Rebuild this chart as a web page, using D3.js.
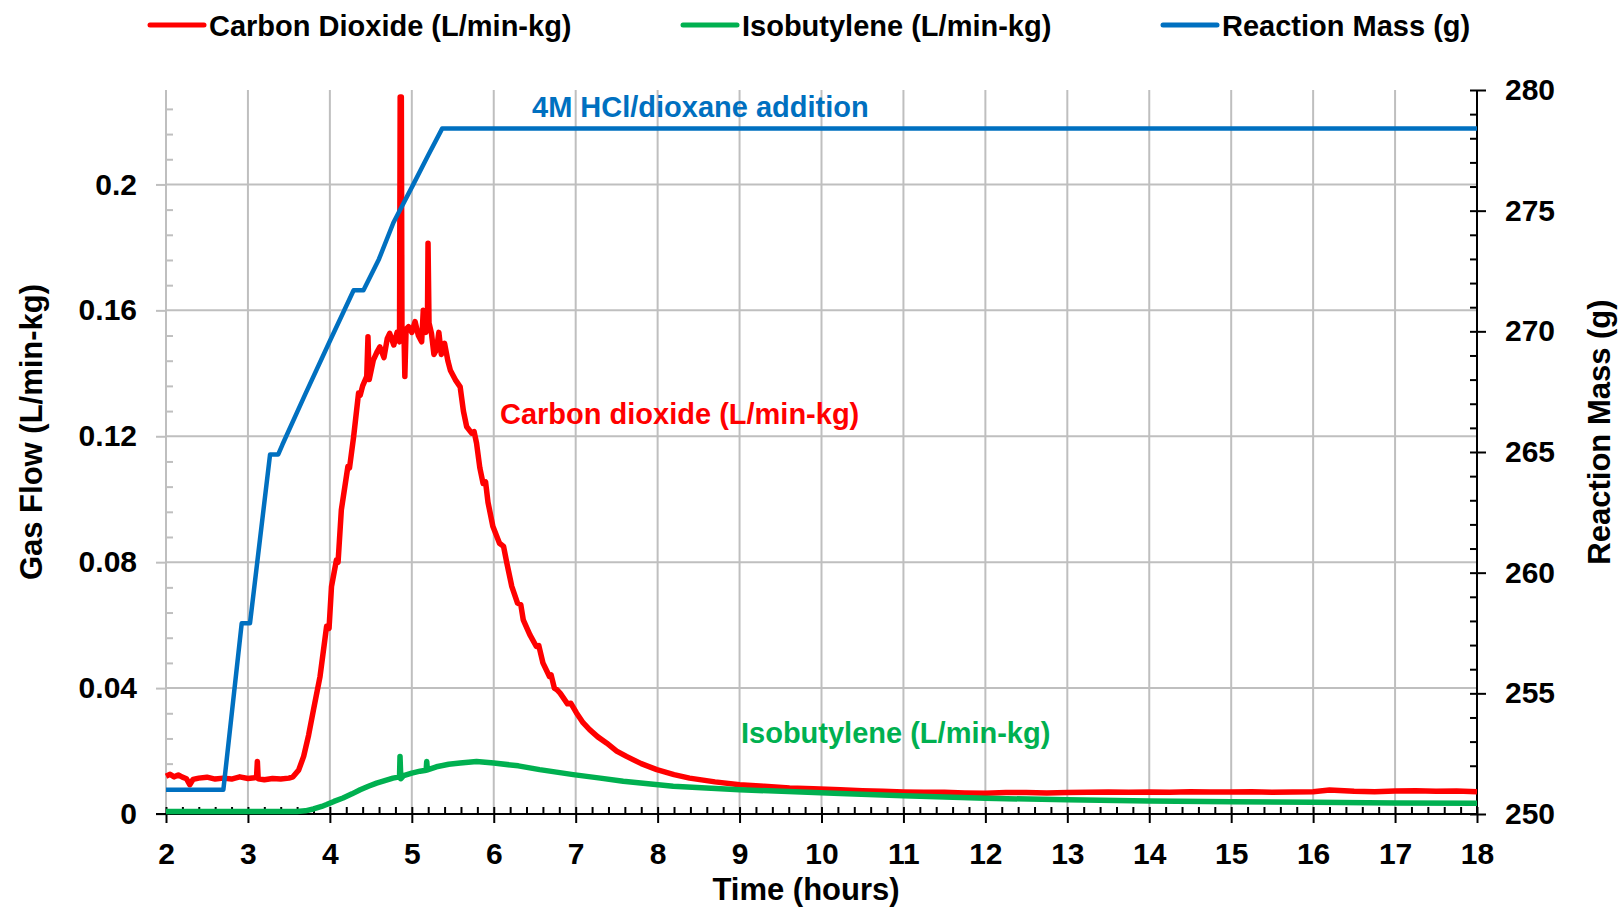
<!DOCTYPE html>
<html>
<head>
<meta charset="utf-8">
<script src="https://cdn.jsdelivr.net/npm/d3@7"></script>
<style>
    body { margin: 0; background: #fff; }
    svg text { font-family: "Liberation Sans", Arial, sans-serif; font-weight: bold; }
</style>
</head>
<body>
<svg id="chart"></svg>
<script>
// time (hours), gas flow (L/min-kg)
var co2Data = [
    [2.00, 0.0120], [2.05, 0.0126], [2.10, 0.0118], [2.15, 0.0124], [2.20, 0.0117], [2.25, 0.0112],
    [2.29, 0.0093], [2.33, 0.0110], [2.40, 0.0114], [2.50, 0.0117], [2.60, 0.0111], [2.70, 0.0114],
    [2.80, 0.0111], [2.90, 0.0118], [3.00, 0.0113], [3.08, 0.0115], [3.105, 0.0118], [3.115, 0.0167],
    [3.125, 0.0112], [3.20, 0.0109], [3.30, 0.0113], [3.40, 0.0111], [3.50, 0.0114], [3.55, 0.0118],
    [3.62, 0.0140], [3.68, 0.0183], [3.74, 0.0250], [3.80, 0.0331], [3.88, 0.0437], [3.96, 0.0596],
    [3.99, 0.0590], [4.02, 0.0723], [4.08, 0.0807], [4.10, 0.0800], [4.14, 0.0966], [4.22, 0.1104],
    [4.24, 0.1100], [4.29, 0.1199], [4.35, 0.1337], [4.37, 0.1330],
    [4.40, 0.1360], [4.45, 0.1390], [4.465, 0.1516], [4.48, 0.1380], [4.53, 0.1442], [4.58, 0.1470],
    [4.61, 0.1484], [4.66, 0.1450], [4.70, 0.1510], [4.73, 0.1527], [4.78, 0.1490], [4.82, 0.1530],
    [4.85, 0.1500], [4.858, 0.2278], [4.872, 0.2278], [4.88, 0.1520], [4.905, 0.1520], [4.915, 0.1390],
    [4.93, 0.1540], [4.96, 0.1548], [5.00, 0.1530], [5.04, 0.1564], [5.08, 0.1520], [5.12, 0.1500],
    [5.14, 0.1600], [5.17, 0.1530], [5.19, 0.1540], [5.198, 0.1813], [5.21, 0.1560], [5.24, 0.1527],
    [5.27, 0.1460], [5.30, 0.1474], [5.33, 0.1530], [5.36, 0.1460], [5.40, 0.1495], [5.44, 0.1440],
    [5.47, 0.1410], [5.53, 0.1380], [5.59, 0.1357], [5.63, 0.1280], [5.67, 0.1230], [5.73, 0.1210],
    [5.76, 0.1215], [5.79, 0.1178], [5.83, 0.1100], [5.87, 0.1050], [5.90, 0.1055], [5.93, 0.0990],
    [5.99, 0.0913], [6.07, 0.0860], [6.12, 0.0850], [6.16, 0.0797], [6.22, 0.0723], [6.29, 0.0670],
    [6.33, 0.0665], [6.36, 0.0617], [6.44, 0.0570], [6.52, 0.0532], [6.55, 0.0535],
    [6.60, 0.0480], [6.68, 0.0437], [6.70, 0.0442], [6.74, 0.0400], [6.77, 0.0395], [6.81, 0.0384],
    [6.90, 0.0350], [6.94, 0.0352], [7.01, 0.0321],
    [7.09, 0.0290], [7.17, 0.0268], [7.27, 0.0245], [7.38, 0.0225], [7.50, 0.0200], [7.62, 0.0183],
    [7.80, 0.0160], [7.99, 0.0141], [8.20, 0.0125], [8.39, 0.0114], [8.70, 0.0102], [9.00, 0.0093],
    [9.30, 0.0088], [9.61, 0.0083], [9.90, 0.0080], [10.23, 0.0077], [10.50, 0.0074], [10.75, 0.0072],
    [11.00, 0.0070], [11.25, 0.0069], [11.50, 0.0069], [11.75, 0.0067], [12.00, 0.0066], [12.25, 0.0068],
    [12.50, 0.0068], [12.75, 0.0067], [13.00, 0.0068], [13.25, 0.0069], [13.50, 0.0070], [13.75, 0.0069],
    [14.00, 0.0070], [14.25, 0.0069], [14.50, 0.0071], [14.75, 0.0070], [15.00, 0.0070], [15.25, 0.0071],
    [15.50, 0.0069], [15.75, 0.0070], [16.00, 0.0071], [16.20, 0.0076], [16.50, 0.0072], [16.75, 0.0071],
    [17.00, 0.0073], [17.25, 0.0074], [17.50, 0.0072], [17.75, 0.0073], [18.00, 0.0071]
];

var isobutyleneData = [
    [2.00, 0.0008], [3.00, 0.0008], [3.60, 0.0008], [3.70, 0.0010], [3.80, 0.0016], [3.90, 0.0024],
    [3.96, 0.0030], [4.05, 0.0040], [4.16, 0.0051], [4.27, 0.0064], [4.37, 0.0077], [4.47, 0.0088],
    [4.57, 0.0098], [4.67, 0.0106], [4.77, 0.0114], [4.85, 0.0118], [4.856, 0.0183], [4.866, 0.0112],
    [4.90, 0.0122], [5.00, 0.0130], [5.10, 0.0136], [5.175, 0.0139], [5.182, 0.0167], [5.19, 0.0140],
    [5.30, 0.0150], [5.45, 0.0158], [5.59, 0.0162], [5.79, 0.0167], [6.00, 0.0162], [6.30, 0.0153],
    [6.56, 0.0141], [6.97, 0.0125], [7.30, 0.0114], [7.58, 0.0104], [8.19, 0.0088], [9.00, 0.0077],
    [10.23, 0.0065], [11.00, 0.0058], [12.00, 0.0050], [13.00, 0.0045], [14.00, 0.0041], [15.00, 0.0039],
    [16.00, 0.0037], [17.00, 0.0035], [18.00, 0.0034]
];

// time (hours), reaction mass (g)
var massData = [
    [2.00, 251.0], [2.70, 251.0], [2.924, 257.9], [3.025, 257.9], [3.27, 264.9], [3.37, 264.9],
    [3.42, 265.3], [3.70, 267.4], [4.00, 269.6], [4.29, 271.7], [4.41, 271.7], [4.60, 273.0],
    [4.775, 274.5], [5.02, 276.1], [5.20, 277.3], [5.37, 278.4], [18.00, 278.4]
];

var xTicks = d3.range(2, 19, 1);
var flowTicks = [0, 0.04, 0.08, 0.12, 0.16, 0.2];
var massTicks = [250, 255, 260, 265, 270, 275, 280];

var seriesNames = ["Carbon Dioxide (L/min-kg)", "Isobutylene (L/min-kg)", "Reaction Mass (g)"];
var seriesColors = ["#ff0000", "#00b050", "#0070c0"];

var width = 1622, height = 908;
var margin = {top: 90, right: 145, bottom: 94, left: 166};
var w = width - margin.left - margin.right;
var h = height - margin.top - margin.bottom;

var root = d3.select("#chart").attr("width", width).attr("height", height);
var svg = root.append("g").attr("transform", "translate(" + margin.left + "," + margin.top + ")");

var x = d3.scaleLinear().domain([2, 18]).range([0, w]);
var yFlow = d3.scaleLinear().domain([0, 0.23]).range([h, 0]);
var yMass = d3.scaleLinear().domain([250, 280]).range([h, 0]);

var grid = "#bfbfbf";

// grid lines
svg.append("g").selectAll("line")
    .data(xTicks.slice(1, -1))
    .enter().append("line")
    .attr("x1", function (d) { return x(d); })
    .attr("x2", function (d) { return x(d); })
    .attr("y1", 0).attr("y2", h)
    .style("stroke", grid).style("stroke-width", 2);

svg.append("g").selectAll("line")
    .data(flowTicks.slice(1))
    .enter().append("line")
    .attr("x1", 0).attr("x2", w)
    .attr("y1", function (d) { return yFlow(d); })
    .attr("y2", function (d) { return yFlow(d); })
    .style("stroke", grid).style("stroke-width", 2);

// left axis (grey)
var minorFlow = d3.range(1, 29).filter(function (i) { return i % 5 != 0; }).map(function (i) { return i * 0.008; });
svg.append("g")
    .call(d3.axisLeft(yFlow).tickValues(minorFlow).tickSize(-7).tickFormat(""))
    .call(function (g) { g.select(".domain").remove(); })
    .selectAll("line").style("stroke", grid).style("stroke-width", 2);

var leftAxis = svg.append("g")
    .call(d3.axisLeft(yFlow).tickValues(flowTicks).tickSize(10).tickPadding(19)
        .tickFormat(function (d) { return d === 0 ? "0" : d3.format("~g")(d); }));
leftAxis.select(".domain").attr("d", "M0," + h + "V0").style("stroke", grid).style("stroke-width", 2);
leftAxis.selectAll("line").style("stroke", grid).style("stroke-width", 2);
leftAxis.selectAll("text").style("font-size", "30px").style("fill", "#000");

// right axis
var minorMass = d3.range(251, 280).filter(function (d) { return d % 5 != 0; });
svg.append("g")
    .attr("transform", "translate(" + w + ",0)")
    .call(d3.axisLeft(yMass).tickValues(minorMass).tickSize(7).tickFormat(""))
    .call(function (g) { g.select(".domain").remove(); })
    .selectAll("line").style("stroke", "#000").style("stroke-width", 2);

var rightAxis = svg.append("g")
    .attr("transform", "translate(" + w + ",0)")
    .call(d3.axisRight(yMass).tickValues(massTicks).tickSize(9).tickPadding(19));
rightAxis.select(".domain").attr("d", "M0," + h + "V0").style("stroke", "#000").style("stroke-width", 2);
rightAxis.selectAll("line").attr("x1", -7).style("stroke", "#000").style("stroke-width", 2);
rightAxis.selectAll("text").style("font-size", "30px").style("fill", "#000");

// bottom axis
var minorX = d3.range(10, 90).filter(function (i) { return i % 5 != 0; }).map(function (i) { return i / 5; });
svg.append("g")
    .attr("transform", "translate(0," + h + ")")
    .call(d3.axisBottom(x).tickValues(minorX).tickSize(-7).tickFormat(""))
    .call(function (g) { g.select(".domain").remove(); })
    .selectAll("line").style("stroke", "#000").style("stroke-width", 2);

var bottomAxis = svg.append("g")
    .attr("transform", "translate(0," + h + ")")
    .call(d3.axisBottom(x).tickValues(xTicks).tickSize(9).tickFormat(d3.format("d")));
bottomAxis.select(".domain").attr("d", "M-10,0H" + w).style("stroke", "#000").style("stroke-width", 2);
bottomAxis.selectAll("line").attr("y1", -7).style("stroke", "#000").style("stroke-width", 2);
bottomAxis.selectAll("text").attr("y", 50).attr("dy", null).style("font-size", "30px").style("fill", "#000");

// series
var flowLine = d3.line().x(function (d) { return x(d[0]); }).y(function (d) { return yFlow(d[1]); });
var massLine = d3.line().x(function (d) { return x(d[0]); }).y(function (d) { return yMass(d[1]); });

svg.append("path").datum(co2Data).attr("d", flowLine)
    .style("fill", "none").style("stroke", seriesColors[0]).style("stroke-width", 5.5).style("stroke-linejoin", "round");
svg.append("path").datum(isobutyleneData).attr("d", flowLine)
    .style("fill", "none").style("stroke", seriesColors[1]).style("stroke-width", 5.5).style("stroke-linejoin", "round");
svg.append("path").datum(massData).attr("d", massLine)
    .style("fill", "none").style("stroke", seriesColors[2]).style("stroke-width", 4.5).style("stroke-linejoin", "round");

// annotations
svg.append("text").attr("x", 532 - margin.left).attr("y", 117 - margin.top)
    .style("font-size", "29px").style("fill", seriesColors[2]).text("4M HCl/dioxane addition");
svg.append("text").attr("x", 500 - margin.left).attr("y", 424 - margin.top)
    .style("font-size", "29px").style("fill", seriesColors[0]).text("Carbon dioxide (L/min-kg)");
svg.append("text").attr("x", 741 - margin.left).attr("y", 743 - margin.top)
    .style("font-size", "29px").style("fill", seriesColors[1]).text("Isobutylene (L/min-kg)");

// axis titles
root.append("text").attr("x", 806).attr("y", 900).style("text-anchor", "middle")
    .style("font-size", "31px").text("Time (hours)");
root.append("text").attr("transform", "translate(42,432) rotate(-90)").style("text-anchor", "middle")
    .style("font-size", "31px").text("Gas Flow (L/min-kg)");
root.append("text").attr("transform", "translate(1610,432) rotate(-90)").style("text-anchor", "middle")
    .style("font-size", "31px").text("Reaction Mass (g)");

// legend
var legendX = [150, 683, 1163];
var legend = root.append("g").selectAll("g")
    .data(seriesNames)
    .enter().append("g")
    .attr("transform", function (d, i) { return "translate(" + legendX[i] + ",25)"; });
legend.append("line").attr("x1", 0).attr("x2", 54)
    .style("stroke", function (d, i) { return seriesColors[i]; })
    .style("stroke-width", 5).style("stroke-linecap", "round");
legend.append("text").attr("x", 59).attr("y", 10.5)
    .style("font-size", "29px").text(function (d) { return d; });
</script>
</body>
</html>
